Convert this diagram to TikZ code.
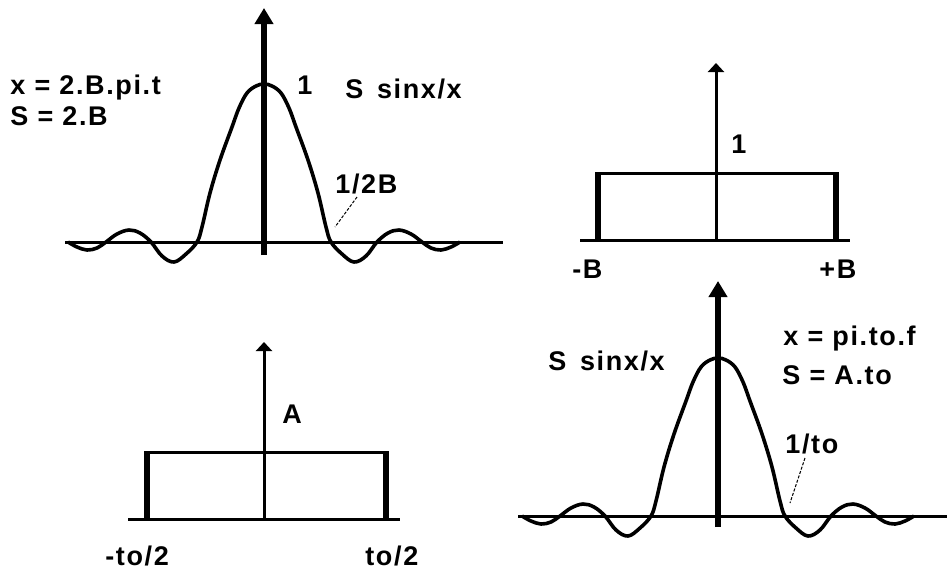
\documentclass[tikz,border=0pt]{standalone}
\usepackage{fontspec}
\setmainfont{Liberation Sans}[LetterSpace=6]
\usepackage{tikz}
\usetikzlibrary{calc,arrows.meta}
\tikzset{lbl/.style={inner sep=0pt,anchor=base west,font=\bfseries\fontsize{13.5}{16}\selectfont}}
\tikzset{thinaxis/.style={line width=1.5pt,-{Triangle[width=8pt,length=4.5pt]}}}
\tikzset{thickaxis/.style={line width=3pt,-{Triangle[width=9pt,length=8pt]}}}
\tikzset{baseline/.style={line width=1.5pt}}
\tikzset{sinccurve/.style={line width=1.8pt,smooth,tension=0.6,line join=round}}
\tikzset{rectside/.style={line width=2.6pt}}
\tikzset{recttop/.style={line width=1.5pt}}
\tikzset{leader/.style={line width=0.5pt,dash pattern=on 1.5pt off 0.8pt}}

\begin{document}
\begin{tikzpicture}[x=0.5pt,y=-0.5pt]
\useasboundingbox (0,0) rectangle (947,569);

% the two sinc spectra
\foreach \cx/\cy/\xl/\xr/\yb/\yt in {264/242/-199/239/13/-234, 718/516/-200/229/11/-235} {%
    \draw[baseline] (\cx+\xl,\cy) -- (\cx+\xr,\cy);% x-axis
    \draw[thickaxis] (\cx,\cy+\yb) -- (\cx,\cy+\yt);% y-axis
    \draw[sinccurve,shift={(\cx,\cy)}] plot coordinates {
        (-196,0) (-187,5) (-177,8) (-167,6) (-158,0) (-147,-8) (-135,-12) (-124,-9)
        (-113,0) (-102,14) (-90,20) (-78,12) (-67,0) (-62,-15) (-54,-49) (-44,-82)
        (-32,-115) (-25,-134) (-17,-149) (-8,-156) (0,-158) (8,-156) (17,-149)
        (25,-134) (32,-115) (44,-82) (54,-49) (62,-15) (67,0) (78,12)
        (90,20) (102,14) (113,0) (124,-9) (135,-12) (147,-8) (158,0) (167,6)
        (177,8) (187,5) (196,0)};
}

% rectangle pulse, top right
\draw[baseline] (580,240) -- (850,240);
\draw[thinaxis] (716,240) -- (716,63);
\draw[recttop] (598,173) -- (836,173);
\draw[rectside] (598,240) -- (598,172);
\draw[rectside] (836,240) -- (836,172);

% rectangle pulse, bottom left
\draw[baseline] (128,519) -- (400,519);
\draw[thinaxis] (264,519) -- (264,342);
\draw[recttop] (147,452) -- (386,452);
\draw[rectside] (147,519) -- (147,451);
\draw[rectside] (386,519) -- (386,451);

% labels, top left
\node[lbl] (xdefa) at (10,94) {x = 2.B.pi.t};
\node[lbl] (sdefa) at (10,125) {S = 2.B};
\node[lbl] (peaka) at (297,94) {1};
\node[lbl] (funca) at (345,98) {S\, sinx/x};
\node[lbl] (zeroa) at (335,193) {1/2B};
\coordinate (za) at (335,227);
\draw[leader] ($(zeroa.base west)+(22,4)$) -- (za);

% labels, top right
\node[lbl] (heightb) at (731,153) {1};
\node[lbl] (leftb) at (572,278) {-B};
\node[lbl] (rightb) at (819,278) {+B};

% labels, bottom left
\node[lbl] (heightc) at (282,423) {A};
\node[lbl] (leftc) at (105,565) {-to/2};
\node[lbl] (rightc) at (365,565) {to/2};

% labels, bottom right
\node[lbl] (funcd) at (548,370) {S\, sinx/x};
\node[lbl] (xdefd) at (783,345) {x = pi.to.f};
\node[lbl] (sdefd) at (782,384) {S = A.to};
\node[lbl] (zerod) at (785,453) {1/to};
\coordinate (zd) at (790,503);
\draw[leader] ($(zerod.base west)+(20,5)$) -- (zd);

\end{tikzpicture}
\end{document}
